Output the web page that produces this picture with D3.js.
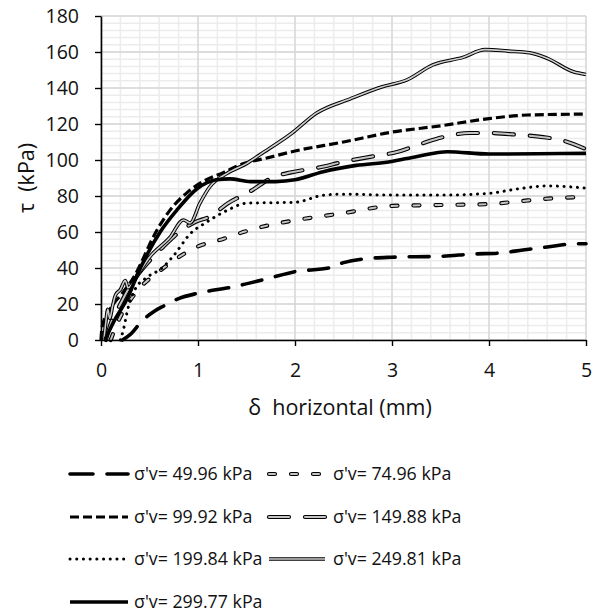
<!DOCTYPE html>
<html>
<head>
<meta charset="utf-8">
<script src="https://cdn.jsdelivr.net/npm/d3@7"></script>
<style>
  body { margin: 0; background: #fff; }
  svg { font-family: "Open Sans", "Noto Sans", sans-serif; }
</style>
</head>
<body>
<svg id="chart" width="593" height="613"></svg>
<script>
// Ticks
const xTicks = [0, 1, 2, 3, 4, 5];
const yTicks = [0, 20, 40, 60, 80, 100, 120, 140, 160, 180];

// Series: [δ horizontal (mm), τ (kPa)]
const s4996 = [[0.22,0],[0.3,3],[0.43,11],[0.55,16],[0.65,19],[0.8,23],[1.0,26],[1.36,29.5],[1.71,34],[2.0,38],[2.35,40],[2.5,43],[2.8,45.5],[3.0,46],[3.5,46.5],[3.85,47.8],[4.1,48.3],[4.35,50],[4.6,51.7],[4.9,53.5],[5.0,53.5]];
const s7496 = [[0.1,0],[0.15,7],[0.22,15],[0.3,22],[0.4,29],[0.5,34],[0.62,39],[0.8,46],[1.0,52],[1.25,56],[1.5,60.5],[1.75,64],[2.0,66.5],[2.5,70.5],[3.0,74.5],[3.5,75],[4.0,75.5],[4.3,77],[4.6,78.5],[5.0,79.5]];
const s9992 = [[0.0,0],[0.01,7],[0.11,18.5],[0.22,26],[0.35,36],[0.45,47],[0.5,53],[0.71,72],[0.89,82],[1.05,88],[1.26,93],[1.47,98],[1.7,101],[2.0,105],[2.5,110],[3.0,115.5],[3.5,119],[4.0,123],[4.4,125],[5.0,125.5]];
const s14988 = [[0.05,0],[0.1,9],[0.2,20],[0.3,30],[0.5,44],[0.64,51.7],[0.83,61],[0.97,65.5],[1.12,68.5],[1.31,76],[1.52,82],[1.8,91],[1.95,93],[2.26,96],[2.5,99],[2.8,102],[3.05,104.4],[3.3,109],[3.55,113],[3.8,115],[4.0,115],[4.3,114],[4.56,112.7],[4.75,111],[5.0,106]];
const s19984 = [[0.2,0],[0.23,5.5],[0.28,18],[0.35,28],[0.48,35],[0.63,40],[0.75,47],[0.92,59],[1.09,65.5],[1.3,72],[1.5,76],[2.0,76.5],[2.3,80.5],[2.5,81],[3.0,80.5],[3.5,80.5],[4.0,81.5],[4.3,84],[4.6,85.6],[5.0,84.4]];
const s24981 = [[0.03,0],[0.05,10],[0.07,17],[0.09,12],[0.12,19],[0.15,25],[0.2,28],[0.25,33],[0.28,29],[0.32,31],[0.4,38],[0.5,46],[0.71,57],[0.85,66.7],[0.92,65],[1.02,76],[1.12,85],[1.3,92.6],[1.5,98],[1.64,103],[1.97,115],[2.22,126],[2.57,134],[2.9,140.7],[3.15,144.4],[3.42,152.8],[3.73,157],[3.96,161.3],[4.2,160.5],[4.42,159.6],[4.6,156.5],[4.87,149],[5.0,147.5]];
const s29977 = [[0.04,0],[0.14,11],[0.28,24],[0.38,37],[0.48,48],[0.61,60],[0.78,72],[0.99,84],[1.19,89],[1.33,89.5],[1.54,88],[1.8,88],[2.0,89],[2.29,93.5],[2.63,97],[2.98,99],[3.26,102],[3.57,104.6],[4.0,103.3],[4.5,103.5],[5.0,103.7]];

const legendLabels = ["σ'v= 49.96 kPa", "σ'v= 74.96 kPa", "σ'v= 99.92 kPa", "σ'v= 149.88 kPa",
                      "σ'v= 199.84 kPa", "σ'v= 249.81 kPa", "σ'v= 299.77 kPa"];

// Line styles: outer stroke + optional inner (double line) stroke
const styles = [
  { data: s4996,  w: 3.6, dash: "20 14", cap: "round" },
  { data: s7496,  w: 4.2, dash: "6 16",  cap: "round", inner: "#c4c4c4", iw: 2 },
  { data: s9992,  w: 3.2, dash: "9 4",   cap: "butt" },
  { data: s14988, w: 4.2, dash: "20 16", cap: "round", inner: "#c4c4c4", iw: 2 },
  { data: s19984, w: 3,   dash: "0.1 6.6", cap: "round" },
  { data: s24981, w: 3.6, dash: null,    cap: "butt", inner: "#cfcfcf", iw: 1.6 },
  { data: s29977, w: 3.6, dash: null,    cap: "butt" }
];

const svg = d3.select("#chart");
const m = { l: 101, r: 586, t: 16, b: 340 };

const x = d3.scaleLinear().domain([0, 5]).range([m.l, m.r]);
const y = d3.scaleLinear().domain([0, 180]).range([m.b, m.t]);

// Grid
const grid = svg.append("g");
grid.selectAll(".gx").data(d3.range(0, 5.001, 0.2)).enter().append("line")
  .attr("x1", d => x(d)).attr("x2", d => x(d)).attr("y1", m.t).attr("y2", m.b)
  .attr("stroke", "#ececec").attr("stroke-width", 1.5);
grid.selectAll(".gy").data(d3.range(0, 180.001, 4)).enter().append("line")
  .attr("x1", m.l).attr("x2", m.r).attr("y1", d => y(d)).attr("y2", d => y(d))
  .attr("stroke", "#ececec").attr("stroke-width", 1.5);
grid.selectAll(".mx").data(xTicks).enter().append("line")
  .attr("x1", d => x(d)).attr("x2", d => x(d)).attr("y1", m.t).attr("y2", m.b)
  .attr("stroke", "#d6d6d6").attr("stroke-width", 1.3);
grid.selectAll(".my").data(yTicks).enter().append("line")
  .attr("x1", m.l).attr("x2", m.r).attr("y1", d => y(d)).attr("y2", d => y(d))
  .attr("stroke", "#d6d6d6").attr("stroke-width", 1.3);

// Curves
const line = d3.line().x(d => x(d[0])).y(d => y(d[1])).curve(d3.curveMonotoneX);
const curves = svg.append("g");
styles.forEach(s => {
  curves.append("path").attr("d", line(s.data)).attr("fill", "none")
    .attr("stroke", "#000").attr("stroke-width", s.w)
    .attr("stroke-linecap", s.cap).attr("stroke-linejoin", "round")
    .attr("stroke-dasharray", s.dash);
  if (s.inner) {
    curves.append("path").attr("d", line(s.data)).attr("fill", "none")
      .attr("stroke", s.inner).attr("stroke-width", s.iw)
      .attr("stroke-linecap", s.cap).attr("stroke-linejoin", "round")
      .attr("stroke-dasharray", s.dash);
  }
});

// Axes
const xAxis = svg.append("g").attr("transform", `translate(0,${m.b})`)
  .call(d3.axisBottom(x).tickValues(xTicks).tickFormat(d3.format("d"))
    .tickSize(6).tickSizeOuter(0).tickPadding(8));
const yAxis = svg.append("g").attr("transform", `translate(${m.l},0)`)
  .call(d3.axisLeft(y).tickValues(yTicks).tickFormat(d3.format("d"))
    .tickSize(6).tickSizeOuter(0).tickPadding(16));
[xAxis, yAxis].forEach(a => {
  a.attr("font-family", null).attr("font-size", null);
  a.select(".domain").attr("stroke", "#000").attr("stroke-width", 1.6);
  a.selectAll(".tick line").attr("stroke", "#000").attr("stroke-width", 1.4);
  a.selectAll(".tick text").style("font-size", "19.5px").attr("fill", "#111");
});
xAxis.selectAll(".tick text").attr("dy", null).attr("y", 37);

// Axis titles
svg.append("text").attr("x", 340).attr("y", 415).attr("text-anchor", "middle")
  .style("font-size", "21.5px").style("white-space", "pre").attr("fill", "#111").text("δ  horizontal (mm)");
svg.append("text").attr("transform", "translate(34,178) rotate(-90)").attr("text-anchor", "middle")
  .style("font-size", "21.5px").style("white-space", "pre").attr("fill", "#111").text("τ  (kPa)");

// Legend
const legendRows = [480, 523, 565, 608];
const legend = svg.append("g");
styles.forEach((s, i) => {
  const col = i % 2, row = Math.floor(i / 2);
  const x0 = col === 0 ? 70 : 269;
  const x1 = col === 0 ? 128 : 325;
  const tx = col === 0 ? 134 : 333;
  const ly = legendRows[row] - 6;
  const pathD = d3.line()([[x0, ly], [x1, ly]]);
  let dash = s.dash;
  if (i === 0) dash = "23 14";
  legend.append("path").attr("d", pathD).attr("stroke", "#000").attr("stroke-width", s.w)
    .attr("stroke-linecap", s.cap).attr("stroke-dasharray", dash).attr("fill", "none");
  if (s.inner) {
    legend.append("path").attr("d", pathD).attr("stroke", s.inner).attr("stroke-width", s.iw)
      .attr("stroke-linecap", s.cap).attr("stroke-dasharray", dash).attr("fill", "none");
  }
  legend.append("text").attr("x", tx).attr("y", legendRows[row]).style("font-size", "17.8px")
    .attr("fill", "#111").text(legendLabels[i]);
});
</script>
</body>
</html>
